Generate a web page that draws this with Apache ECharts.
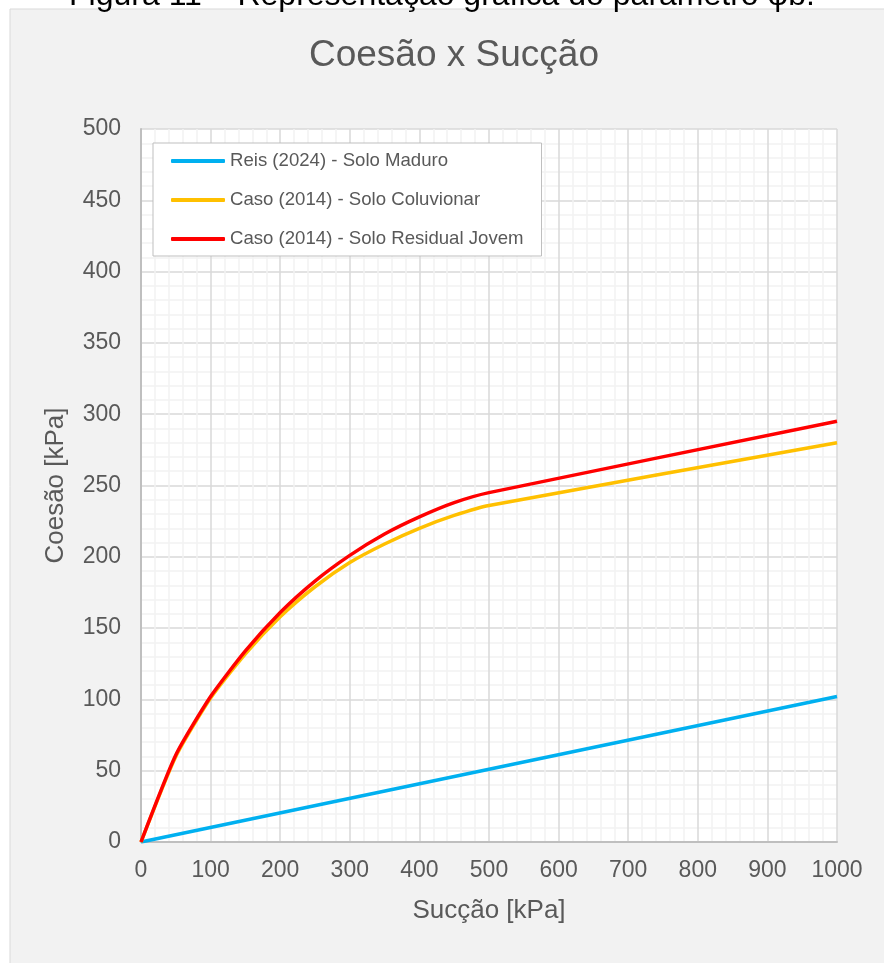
<!DOCTYPE html>
<html>
<head>
<meta charset="utf-8">
<script src="https://cdn.jsdelivr.net/npm/echarts@6/dist/echarts.min.js"></script>
<style>
html,body{margin:0;padding:0;background:#ffffff;}
#c{width:884px;height:963px;}
</style>
</head>
<body>
<div id="c"></div>
<script>
const suctionReis = [0, 1000];
const cohesionReis = [0, 102];
const suctionCaso = [0, 50, 100, 150, 200, 250, 300, 350, 400, 450, 500, 1000];
const cohesionColuvionar = [0, 60, 101, 132, 158, 179, 196, 209, 220, 229, 236, 280];
const cohesionResidual = [0, 61, 102, 134, 161, 183, 201, 216, 228, 238, 245, 295];
const seriesNames = ['Reis (2024) - Solo Maduro', 'Caso (2014) - Solo Coluvionar', 'Caso (2014) - Solo Residual Jovem'];
const titleText = 'Coesão x Sucção';
const captionText = 'Figura 11 – Representação gráfica do parâmetro φb.';

function pairs(xs, ys){ return xs.map((x,i)=>[x, ys[i]]); }

const chart = echarts.init(document.getElementById('c'), null, {renderer:'canvas'});
const font = 'Liberation Sans, Arial, sans-serif';
chart.setOption({
  backgroundColor: 'transparent',
  animation: false,
  graphic: [
    {type:'text', left: 'center', top: -20, z: 0,
     style:{text: captionText, font: '32px ' + font, fill:'#000000'}},
    {type:'rect', shape:{x:10, y:9, width:900, height:1000}, z:-10,
     style:{fill:'#f2f2f2', stroke:'#d9d9d9', lineWidth:1}}
  ],
  title: {
    text: titleText, left: 449, textAlign: 'center', top: 32,
    textStyle: {fontFamily: font, fontSize: 37, fontWeight: 'normal', color: '#595959'}
  },
  legend: {
    orient: 'vertical', left: 153, top: 143,
    backgroundColor: '#ffffff', borderColor: '#bfbfbf', borderWidth: 1,
    padding: [7, 18, 6, 18],
    itemWidth: 54, itemHeight: 4, itemGap: 17,
    icon: 'roundRect',
    textStyle: {fontFamily: font, fontSize: 18.6, color: '#595959', lineHeight: 22},
    data: seriesNames
  },
  grid: {left: 141, right: 47, top: 129, bottom: 121, show: true, backgroundColor: '#ffffff', borderWidth: 0},
  xAxis: {
    type: 'value', min: 0, max: 1000, interval: 100,
    name: 'Sucção [kPa]', nameLocation: 'middle', nameGap: 56,
    nameTextStyle: {fontFamily: font, fontSize: 26, color: '#595959'},
    axisLine: {show: true, lineStyle: {color: '#bfbfbf', width: 2}},
    axisTick: {show: false},
    axisLabel: {fontFamily: font, fontSize: 23, color: '#595959', margin: 17, formatter: v => String(v)},
    splitLine: {show: true, lineStyle: {color: '#d9d9d9', width: 1.5}},
    minorTick: {show: false, splitNumber: 5},
    minorSplitLine: {show: true, lineStyle: {color: '#f2f2f2', width: 1.5}}
  },
  yAxis: {
    type: 'value', min: 0, max: 500, interval: 50,
    name: 'Coesão [kPa]', nameLocation: 'middle', nameGap: 72,
    nameTextStyle: {fontFamily: font, fontSize: 26, color: '#595959'},
    axisLine: {show: true, lineStyle: {color: '#bfbfbf', width: 2}},
    axisTick: {show: false},
    axisLabel: {fontFamily: font, fontSize: 23, color: '#595959', margin: 20},
    splitLine: {show: true, lineStyle: {color: '#d9d9d9', width: 1.5}},
    minorTick: {show: false, splitNumber: 5},
    minorSplitLine: {show: true, lineStyle: {color: '#f2f2f2', width: 1.5}}
  },
  series: [
    {name: seriesNames[0], type: 'line', data: pairs(suctionReis, cohesionReis), showSymbol: false,
     lineStyle: {color: '#00b0f0', width: 3.5}, itemStyle: {color: '#00b0f0'}},
    {name: seriesNames[1], type: 'line', data: pairs(suctionCaso, cohesionColuvionar), showSymbol: false,
     smooth: 0.2,
     lineStyle: {color: '#ffc000', width: 3.5}, itemStyle: {color: '#ffc000'}},
    {name: seriesNames[2], type: 'line', data: pairs(suctionCaso, cohesionResidual), showSymbol: false,
     smooth: 0.2,
     lineStyle: {color: '#ff0000', width: 3.5}, itemStyle: {color: '#ff0000'}}
  ]
});
</script>
</body>
</html>
